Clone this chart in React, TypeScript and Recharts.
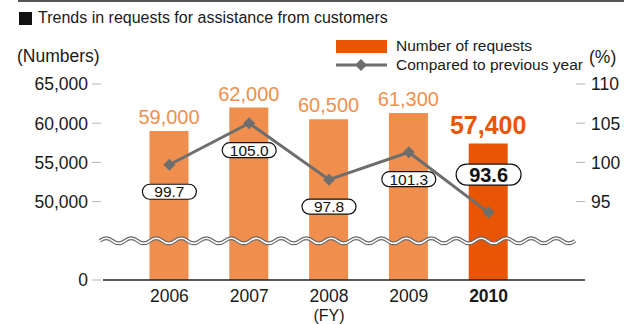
import { ComposedChart, Bar, Line, XAxis, YAxis, Cell, LabelList, ReferenceLine } from "recharts";

const years = ["2006", "2007", "2008", "2009", "2010"];
const requests = [59000, 62000, 60500, 61300, 57400];
const yoy = [99.7, 105.0, 97.8, 101.3, 93.6];
const leftTicks = [0, 50000, 55000, 60000, 65000];
const rightTicks = [95, 100, 105, 110];

// the value axis is broken between 0 and 50,000: the bottom of the plot stands for 0
const LEFT_BASE = 40000;
const RIGHT_BASE = 85;
const BREAK_AT = 45000;

const BAR = "#F08F4D";
const HIGHLIGHT = "#E85504";
const LINE = "#6E6E6E";
const FONT = "'Liberation Sans', Arial, Helvetica, sans-serif";

const data = years.map((year, i) => ({ year, requests: requests[i], yoy: yoy[i] }));
const last = years.length - 1;

const LeftTick = (props: any) => {
  const { x, y, payload } = props;
  const label = payload.value === LEFT_BASE ? "0" : payload.value.toLocaleString("en-US");
  return (
    <g>
      <line x1={x - 11} x2={x - 2} y1={y} y2={y} stroke="#b5b5b5" />
      <text x={x - 15} y={y} dy="0.36em" textAnchor="end" fontSize={17.5} fill="#1a1a1a" fontFamily={FONT}>
        {label}
      </text>
    </g>
  );
};

const RightTick = (props: any) => {
  const { x, y, payload } = props;
  return (
    <g>
      <line x1={x - 9} x2={x} y1={y} y2={y} stroke="#b5b5b5" />
      <text x={x + 6} y={y} dy="0.36em" textAnchor="start" fontSize={17.5} fill="#1a1a1a" fontFamily={FONT}>
        {payload.value}
      </text>
    </g>
  );
};

// the middle year carries the "(FY)" unit on a second line of the same label
const YearTick = (props: any) => {
  const { x, y, payload, index } = props;
  return (
    <text x={x} y={y + 22} textAnchor="middle" fontSize={17.5} fill="#1a1a1a" fontFamily={FONT}
      fontWeight={index === last ? "bold" : "normal"}>
      <tspan x={x}>{payload.value}</tspan>
      {index === 2 && (
        <tspan x={x} dy={19} fontSize={16}>
          (FY)
        </tspan>
      )}
    </text>
  );
};

const Diamond = (props: any) => {
  const { cx, cy } = props;
  if (cx == null || cy == null) return null;
  const r = 6;
  return <polygon points={`${cx},${cy - r} ${cx + r},${cy} ${cx},${cy + r} ${cx - r},${cy}`} fill={LINE} />;
};

const BarValue = (props: any) => {
  const { x, y, width, value, index } = props;
  const big = index === last;
  return (
    <text x={x + width / 2} y={y - (big ? 10 : 7)} textAnchor="middle" fontFamily={FONT}
      fontSize={big ? 25 : 20} fontWeight={big ? "bold" : "normal"} fill={big ? HIGHLIGHT : BAR}>
      {Number(value).toLocaleString("en-US")}
    </text>
  );
};

const RatioPill = (props: any) => {
  const { x, y, value, index } = props;
  const big = index === last;
  const w = big ? 65 : 54;
  const h = big ? 21 : 15;
  const cy = big ? y - 38 : y + 27;
  return (
    <g>
      <rect x={x - w / 2} y={cy - h / 2} width={w} height={h} rx={h / 2} fill="#fff" stroke="#111" strokeWidth={1.2} />
      <text x={x} y={cy} dy="0.36em" textAnchor="middle" fontFamily={FONT}
        fontSize={big ? 20 : 15.5} fontWeight={big ? "bold" : "normal"} fill="#111">
        {Number(value).toFixed(1)}
      </text>
    </g>
  );
};

const WavyBreak = (props: any) => {
  const { x1, x2, y1 } = props;
  const half = 12.5;
  let d = `M${x1 - 3},${y1}`;
  let up = true;
  for (let x = x1 - 3; x + half <= x2 - 10; x += half) {
    d += ` Q${x + half / 2},${y1 + (up ? -5 : 5)} ${x + half},${y1}`;
    up = !up;
  }
  return (
    <g>
      <path d={d} fill="none" stroke="#6a6a6a" strokeWidth={4} />
      <path d={d} fill="none" stroke="#fff" strokeWidth={1.6} />
    </g>
  );
};

export default function App() {
  return (
    <div style={{ position: "absolute", left: 0, top: 0, width: 624, height: 324, fontFamily: FONT, color: "#1a1a1a", background: "#fff" }}>
      <div style={{ position: "absolute", left: 18, right: 0, top: 0, height: 2, background: "#555" }} />
      <div style={{ position: "absolute", left: 19, top: 12, width: 13, height: 13, background: "#111" }} />
      <div style={{ position: "absolute", left: 38, top: 9, fontSize: 16, lineHeight: "18px" }}>
        Trends in requests for assistance from customers
      </div>
      <div style={{ position: "absolute", left: 17, top: 46, fontSize: 17.5, lineHeight: "20px" }}>(Numbers)</div>
      <div style={{ position: "absolute", left: 589, top: 47, fontSize: 17.5, lineHeight: "20px" }}>(%)</div>

      <div style={{ position: "absolute", left: 336, top: 37, fontSize: 15.5, lineHeight: "18.5px" }}>
        <div style={{ display: "flex", alignItems: "center" }}>
          <span style={{ display: "inline-block", width: 51, height: 13, background: HIGHLIGHT, marginRight: 9 }} />
          Number of requests
        </div>
        <div style={{ display: "flex", alignItems: "center" }}>
          <svg width={51} height={14} style={{ marginRight: 9 }}>
            <line x1={0} x2={51} y1={7} y2={7} stroke={LINE} strokeWidth={3} />
            <polygon points="25,1 31,7 25,13 19,7" fill={LINE} />
          </svg>
          Compared to previous year
        </div>
      </div>

      <div style={{ position: "absolute", left: 0, top: 0 }}>
        <ComposedChart width={624} height={324} data={data} margin={{ top: 84, right: 0, bottom: 0, left: 0 }}>
          <XAxis dataKey="year" height={44} padding={{ left: 26.5, right: 56.5 }}
            axisLine={{ stroke: "#222", strokeWidth: 1.5 }} tickLine={false} tickSize={0} tickMargin={0}
            tick={<YearTick />} interval={0} />
          <YAxis yAxisId="left" orientation="left" width={103} domain={[LEFT_BASE, 65000]}
            ticks={leftTicks.map((t) => (t === 0 ? LEFT_BASE : t))} allowDataOverflow
            axisLine={false} tickLine={false} tickSize={0} tickMargin={0} tick={<LeftTick />} />
          <YAxis yAxisId="right" orientation="right" width={39} domain={[RIGHT_BASE, 110]}
            ticks={rightTicks} allowDataOverflow
            axisLine={false} tickLine={false} tickSize={0} tickMargin={0} tick={<RightTick />} />
          <Bar yAxisId="left" dataKey="requests" barSize={39} isAnimationActive={false}>
            {data.map((d, i) => (
              <Cell key={d.year} fill={i === last ? HIGHLIGHT : BAR} />
            ))}
            <LabelList dataKey="requests" content={<BarValue />} />
          </Bar>
          <ReferenceLine yAxisId="left" y={BREAK_AT} shape={(p: any) => <WavyBreak {...p} />} />
          <Line yAxisId="right" dataKey="yoy" stroke={LINE} strokeWidth={3} dot={<Diamond />}
            activeDot={false} isAnimationActive={false}>
            <LabelList dataKey="yoy" content={<RatioPill />} />
          </Line>
        </ComposedChart>
      </div>
    </div>
  );
}
